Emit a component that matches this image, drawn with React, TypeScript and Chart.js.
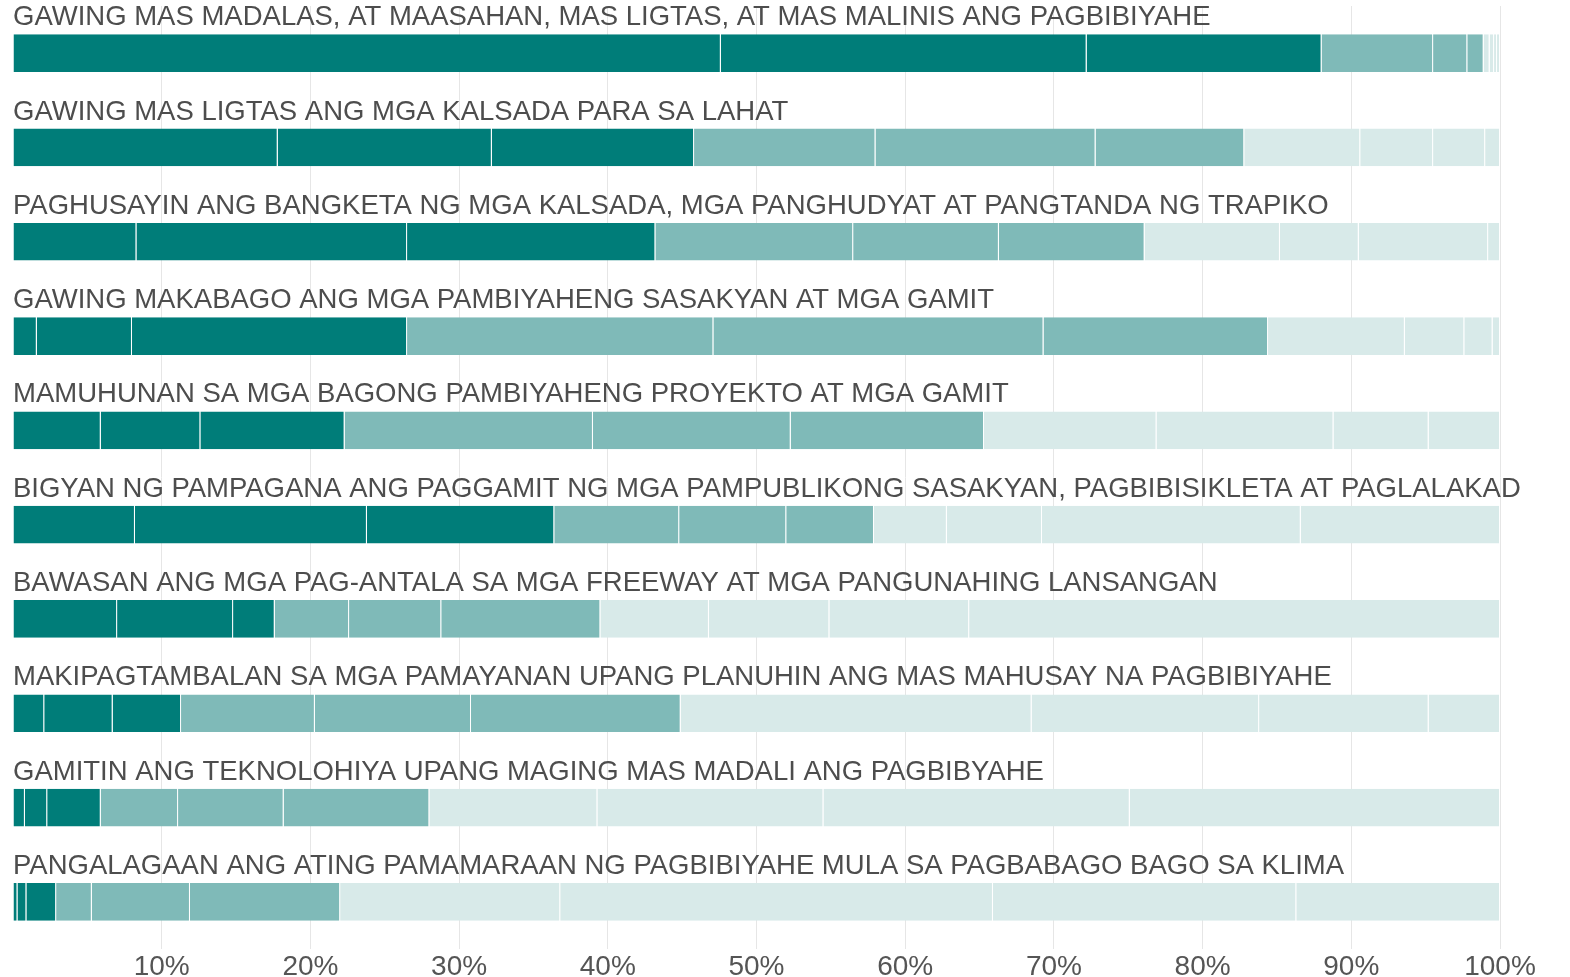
import { useEffect, useRef } from "react";
import { Chart, registerables } from "chart.js";

Chart.register(...registerables);

const categories = [
  "GAWING MAS MADALAS, AT MAASAHAN, MAS LIGTAS, AT MAS MALINIS ANG PAGBIBIYAHE",
  "GAWING MAS LIGTAS ANG MGA KALSADA PARA SA LAHAT",
  "PAGHUSAYIN ANG BANGKETA NG MGA KALSADA, MGA PANGHUDYAT AT PANGTANDA NG TRAPIKO",
  "GAWING MAKABAGO ANG MGA PAMBIYAHENG SASAKYAN AT MGA GAMIT",
  "MAMUHUNAN SA MGA BAGONG PAMBIYAHENG PROYEKTO AT MGA GAMIT",
  "BIGYAN NG PAMPAGANA ANG PAGGAMIT NG MGA PAMPUBLIKONG SASAKYAN, PAGBIBISIKLETA AT PAGLALAKAD",
  "BAWASAN ANG MGA PAG-ANTALA SA MGA FREEWAY AT MGA PANGUNAHING LANSANGAN",
  "MAKIPAGTAMBALAN SA MGA PAMAYANAN UPANG PLANUHIN ANG MAS MAHUSAY NA PAGBIBIYAHE",
  "GAMITIN ANG TEKNOLOHIYA UPANG MAGING MAS MADALI ANG PAGBIBYAHE",
  "PANGALAGAAN ANG ATING PAMAMARAAN NG PAGBIBIYAHE MULA SA PAGBABAGO BAGO SA KLIMA",
];

// Share (%) of each rank 1..10 for every priority row
const rowMadalas = [47.6, 24.6, 15.8, 7.5, 2.3, 1.1, 0.4, 0.3, 0.2, 0.2];
const rowLigtas = [17.8, 14.4, 13.6, 12.2, 14.8, 10.0, 7.8, 4.9, 3.5, 1.0];
const rowBangketa = [8.3, 18.2, 16.7, 13.3, 9.8, 9.8, 9.1, 5.3, 8.7, 0.8];
const rowMakabago = [1.6, 6.4, 18.5, 20.6, 22.2, 15.1, 9.2, 4.0, 1.9, 0.5];
const rowMamuhunan = [5.9, 6.7, 9.7, 16.7, 13.3, 13.0, 11.6, 11.9, 6.4, 4.8];
const rowPampagana = [8.2, 15.6, 12.6, 8.4, 7.2, 5.9, 4.9, 6.4, 17.4, 13.4];
const rowAntala = [7.0, 7.8, 2.8, 5.0, 6.2, 10.7, 7.3, 8.1, 9.4, 35.7];
const rowTambalan = [2.1, 4.6, 4.6, 9.0, 10.5, 14.1, 23.6, 15.3, 11.4, 4.8];
const rowTeknolohiya = [0.8, 1.5, 3.6, 5.2, 7.1, 9.8, 11.3, 15.2, 20.6, 24.9];
const rowKlima = [0.3, 0.6, 2.0, 2.4, 6.6, 10.1, 14.8, 29.1, 20.4, 13.7];

const rows = [
  rowMadalas,
  rowLigtas,
  rowBangketa,
  rowMakabago,
  rowMamuhunan,
  rowPampagana,
  rowAntala,
  rowTambalan,
  rowTeknolohiya,
  rowKlima,
];

const rankLabels = ["1", "2", "3", "4", "5", "6", "7", "8", "9", "10"];

const DARK = "#007d79";
const MID = "#7fbab8";
const LIGHT = "#d8eae9";
const FONT = '"Liberation Sans", Arial, sans-serif';

const rowLabelPlugin = {
  id: "rowLabels",
  afterDatasetsDraw(chart: any) {
    const meta = chart.getDatasetMeta(0);
    const ctx = chart.ctx;
    ctx.save();
    ctx.font = `27.5px ${FONT}`;
    ctx.fillStyle = "#4d4d4d";
    ctx.textAlign = "left";
    ctx.textBaseline = "alphabetic";
    meta.data.forEach((bar: any, i: number) => {
      const { y, height } = bar.getProps(["y", "height"], true);
      ctx.fillText(categories[i], chart.chartArea.left, y - height / 2 - 9);
    });
    ctx.restore();
  },
};

export default function App() {
  const canvasRef = useRef<HTMLCanvasElement | null>(null);

  useEffect(() => {
    if (!canvasRef.current) return;
    const datasets = rankLabels.map((rank, k) => ({
      label: rank,
      data: rows.map((r) => r[k]),
      backgroundColor: k < 3 ? DARK : k < 6 ? MID : LIGHT,
      borderColor: "rgba(255,255,255,0.75)",
      borderWidth: { left: 0, top: 0, bottom: 0, right: 1 },
      borderSkipped: false,
      categoryPercentage: 1,
      barPercentage: 0.4,
    }));

    const chart = new Chart(canvasRef.current, {
      type: "bar",
      data: { labels: categories, datasets },
      plugins: [rowLabelPlugin],
      options: {
        indexAxis: "y",
        animation: false,
        responsive: true,
        maintainAspectRatio: false,
        layout: { padding: { top: 6, left: 13, right: 70, bottom: -8 } },
        plugins: {
          legend: { display: false },
          tooltip: { enabled: false },
        },
        scales: {
          x: {
            type: "linear",
            stacked: true,
            min: 0,
            max: 100,
            border: { display: false },
            grid: {
              drawTicks: false,
              lineWidth: 1,
              color: (c: any) =>
                c.tick && c.tick.value === 0 ? "rgba(0,0,0,0)" : "#e6e6e6",
            },
            ticks: {
              stepSize: 10,
              padding: 4,
              autoSkip: false,
              maxRotation: 0,
              color: "#555555",
              font: { family: FONT, size: 28, lineHeight: 1 },
              callback: (v: any) => (v === 0 ? "" : `${v}%`),
            },
          },
          y: {
            type: "category",
            stacked: true,
            display: false,
          },
        },
      },
    });
    return () => chart.destroy();
  }, []);

  return (
    <div
      style={{
        position: "absolute",
        left: 0,
        top: 0,
        width: 1570,
        height: 977,
        background: "#ffffff",
      }}
    >
      <canvas ref={canvasRef} />
    </div>
  );
}
